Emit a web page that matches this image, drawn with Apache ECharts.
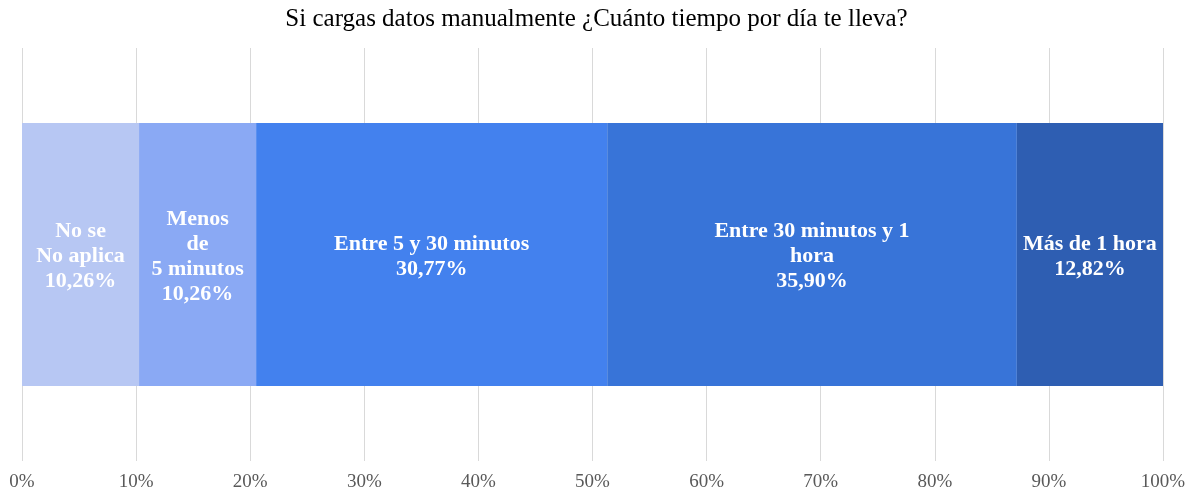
<!DOCTYPE html>
<html>
<head>
<meta charset="utf-8">
<script src="https://cdn.jsdelivr.net/npm/echarts@6/dist/echarts.min.js"></script>
<style>
  html, body { margin: 0; padding: 0; background: #ffffff; }
  #chart { width: 1193px; height: 492px; }
</style>
</head>
<body>
<div id="chart"></div>
<script>
// Respuestas: tiempo diario dedicado a la carga manual de datos
const categories = ['Respuestas'];
const seriesNames = [
  'No se\nNo aplica',
  'Menos\nde\n5 minutos',
  'Entre 5 y 30 minutos',
  'Entre 30 minutos y 1\nhora',
  'Más de 1 hora'
];
const seriesValues = [10.26, 10.26, 30.77, 35.90, 12.82];
const seriesColors = ['#b7c7f3', '#8aa9f4', '#4381ee', '#3874d8', '#2e5eb2'];
const tickLabels = ['0%', '10%', '20%', '30%', '40%', '50%', '60%', '70%', '80%', '90%', '100%'];

const serif = '"Liberation Serif", "Times New Roman", serif';

const chart = echarts.init(document.getElementById('chart'), null, { renderer: 'canvas' });

const series = seriesNames.map((name, i) => ({
  name: name,
  type: 'bar',
  stack: 'total',
  barWidth: 263,
  data: [seriesValues[i]],
  itemStyle: { color: seriesColors[i] },
  label: {
    show: true,
    position: 'inside',
    offset: [0, 2],
    color: '#ffffff',
    fontFamily: serif,
    fontWeight: 'bold',
    fontSize: 22,
    lineHeight: 25,
    align: 'center',
    formatter: (p) => p.seriesName + '\n' + p.value.toFixed(2).replace('.', ',') + '%'
  }
}));

chart.setOption({
  animation: false,
  title: {
    text: 'Si cargas datos manualmente ¿Cuánto tiempo por día te lleva?',
    left: 'center',
    top: 2,
    textStyle: { fontFamily: serif, fontWeight: 'normal', fontSize: 25, color: '#000000' }
  },
  grid: { left: 22, right: 30, top: 48, bottom: 31, containLabel: false },
  xAxis: {
    type: 'value',
    min: 0,
    max: 100,
    interval: 10,
    axisLine: { show: false },
    axisTick: { show: false },
    splitLine: { show: true, lineStyle: { color: '#d9d9d9', width: 1 } },
    axisLabel: {
      color: '#595959',
      fontFamily: serif,
      fontSize: 19,
      margin: 12,
      formatter: (v) => tickLabels[Math.round(v / 10)]
    }
  },
  yAxis: {
    type: 'category',
    data: categories,
    axisLine: { show: false },
    axisTick: { show: false },
    axisLabel: { show: false }
  },
  series: series
});
</script>
</body>
</html>
